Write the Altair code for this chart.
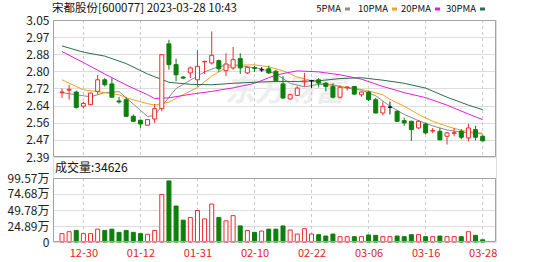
import altair as alt
import pandas as pd

title_text = "宋都股份[600077] 2023-03-28 10:43"
vol_title = "成交量:34626"
watermark_text = "东方财富"

opens = [2.700, 2.712, 2.703, 2.635, 2.642, 2.706, 2.762, 2.742, 2.660, 2.666,
         2.586, 2.567, 2.543, 2.573, 2.623, 2.935, 2.835, 2.775, 2.795, 2.762,
         2.848, 2.843, 2.854, 2.806, 2.819, 2.864, 2.795, 2.821, 2.810, 2.815,
         2.803, 2.742, 2.670, 2.687, 2.752, 2.758, 2.762, 2.746, 2.730, 2.678,
         2.724, 2.730, 2.690, 2.703, 2.666, 2.602, 2.630, 2.610, 2.565, 2.562,
         2.530, 2.549, 2.515, 2.514, 2.490, 2.504, 2.514, 2.482, 2.522, 2.490]
highs = [2.720, 2.738, 2.710, 2.656, 2.700, 2.786, 2.770, 2.770, 2.680, 2.680,
         2.595, 2.570, 2.572, 2.645, 2.886, 2.955, 2.864, 2.780, 2.826, 2.904,
         2.853, 2.995, 2.860, 2.890, 2.920, 2.890, 2.826, 2.830, 2.823, 2.830,
         2.810, 2.780, 2.695, 2.730, 2.795, 2.762, 2.770, 2.750, 2.745, 2.735,
         2.730, 2.732, 2.705, 2.710, 2.675, 2.657, 2.657, 2.615, 2.580, 2.565,
         2.567, 2.555, 2.530, 2.530, 2.510, 2.530, 2.525, 2.549, 2.540, 2.495]
lows = [2.675, 2.666, 2.623, 2.623, 2.640, 2.693, 2.730, 2.677, 2.647, 2.583,
        2.560, 2.530, 2.543, 2.554, 2.610, 2.810, 2.755, 2.765, 2.770, 2.730,
        2.790, 2.835, 2.800, 2.780, 2.810, 2.790, 2.790, 2.800, 2.800, 2.790,
        2.755, 2.672, 2.667, 2.685, 2.730, 2.722, 2.725, 2.706, 2.672, 2.672,
        2.710, 2.690, 2.680, 2.660, 2.600, 2.590, 2.595, 2.560, 2.540, 2.468,
        2.525, 2.500, 2.505, 2.470, 2.450, 2.490, 2.475, 2.465, 2.470, 2.465]
closes = [2.703, 2.716, 2.629, 2.648, 2.698, 2.762, 2.738, 2.678, 2.655, 2.586,
          2.562, 2.549, 2.570, 2.623, 2.883, 2.835, 2.786, 2.770, 2.819, 2.827,
          2.851, 2.880, 2.815, 2.838, 2.859, 2.819, 2.822, 2.817, 2.810, 2.795,
          2.758, 2.674, 2.690, 2.722, 2.756, 2.758, 2.746, 2.730, 2.678, 2.726,
          2.727, 2.693, 2.703, 2.666, 2.602, 2.634, 2.630, 2.562, 2.554, 2.522,
          2.562, 2.506, 2.518, 2.473, 2.506, 2.507, 2.485, 2.530, 2.485, 2.468]
volumes = [13, 16, 18, 13, 13, 20, 18, 20, 15, 18,
           15, 13, 12, 18, 74, 95, 56, 34, 38, 49,
           36, 59, 38, 33, 41, 25, 18, 15, 17, 20,
           20, 25, 18.7, 12.4, 20.7, 12.4, 11.4, 9.3, 12.4, 8.3,
           8.3, 8.3, 8.3, 10.9, 10.4, 8.3, 8.3, 9.3, 8.3, 11.4,
           11.4, 8.3, 8.3, 9.3, 8.3, 8.3, 8.3, 16, 10.4, 3.4626]

ma_names = ["5PMA", "10PMA", "20PMA", "30PMA"]
ma5_idx = [0, 2, 4, 6, 8, 10, 12, 13, 14, 16, 18, 20, 22, 24, 26, 28, 30, 32, 34, 36,
           38, 40, 42, 44, 46, 48, 50, 52, 54, 56, 58, 59]
ma5 = [2.700, 2.690, 2.680, 2.700, 2.705, 2.645, 2.585, 2.590, 2.635, 2.720,
       2.760, 2.800, 2.826, 2.835, 2.825, 2.815, 2.790, 2.745, 2.728, 2.740,
       2.738, 2.722, 2.712, 2.685, 2.635, 2.595, 2.565, 2.540, 2.520, 2.510,
       2.505, 2.500]
ma10_idx = [0, 2, 3, 6, 8, 9, 12, 13, 15, 17, 19, 21, 23, 25, 27, 29, 31, 33, 35, 37,
            39, 41, 43, 45, 46, 48, 50, 52, 54, 56, 58, 59]
ma10 = [2.762, 2.730, 2.714, 2.700, 2.690, 2.675, 2.647, 2.640, 2.655, 2.690,
        2.725, 2.780, 2.820, 2.833, 2.834, 2.825, 2.805, 2.775, 2.758, 2.740,
        2.730, 2.722, 2.708, 2.690, 2.668, 2.635, 2.595, 2.562, 2.538, 2.518,
        2.508, 2.505]
ma20_idx = [0, 3, 6, 9, 12, 13, 15, 18, 21, 24, 27, 30, 33, 36, 39, 42, 45, 48, 51, 54, 57, 59]
ma20 = [2.898, 2.845, 2.790, 2.737, 2.690, 2.672, 2.675, 2.692, 2.706, 2.723,
        2.745, 2.785, 2.805, 2.800, 2.786, 2.765, 2.730, 2.700, 2.676, 2.640,
        2.597, 2.570]
ma30_idx = [0, 3, 6, 9, 12, 15, 18, 21, 24, 27, 30, 33, 36, 39, 42, 45, 48, 51, 54, 57, 59]
ma30 = [2.925, 2.895, 2.876, 2.840, 2.790, 2.750, 2.740, 2.738, 2.745, 2.750,
        2.754, 2.754, 2.757, 2.768, 2.772, 2.760, 2.745, 2.722, 2.678, 2.640,
        2.618]

date_idx = [3, 11, 19, 27, 35, 43, 51, 59]
date_labels = ["12-30", "01-12", "01-31", "02-10", "02-22", "03-06", "03-16", "03-28"]
price_ticks = [2.39, 2.4725, 2.555, 2.6375, 2.72, 2.8025, 2.885, 2.9675, 3.05]
price_labels = ["2.39", "2.47", "2.56", "2.64", "2.72", "2.80", "2.88", "2.97", "3.05"]
vol_ticks = [0, 24.89, 49.78, 74.68, 99.57]
vol_labels = ["0", "24.89万", "49.78万", "74.68万", "99.57万"]

# ---------------- styling ----------------
FONT = "Noto Sans CJK SC"
RED = "#ec2a2a"
GREEN = "#0d7f0d"
FLAT = "#111111"
MA_COLORS = ["#8c8c8c", "#f2a21e", "#e01ee0", "#2b6e4c"]
W, H = 443, 222
PH, VT = 137, 158

n = len(opens)
dirs = ["up" if c > o else ("down" if c < o else "flat") for o, c in zip(opens, closes)]
vdirs = ["down" if d == "down" else "up" for d in dirs]
candles = pd.DataFrame({"idx": list(range(n)), "open": opens, "high": highs,
                        "low": lows, "close": closes, "dir": dirs,
                        "vol": volumes, "vdir": vdirs})

rows = []
for name, ids, vals in zip(ma_names, [ma5_idx, ma10_idx, ma20_idx, ma30_idx],
                           [ma5, ma10, ma20, ma30]):
    for i, v in zip(ids, vals):
        rows.append({"idx": i, "value": v, "series": name})
ma_df = pd.DataFrame(rows)


def js_list(items, quote):
    if quote:
        return "[" + ",".join("'%s'" % s for s in items) + "]"
    return "[" + ",".join(repr(v) for v in items) + "]"


xs = alt.Scale(domain=[-0.56, 60.17], nice=False, zero=False)
xaxis = alt.Axis(values=date_idx,
                 labelExpr="%s[indexof(%s, datum.value)]" % (js_list(date_labels, True), js_list(date_idx, False)),
                 title=None, grid=False, ticks=False, domain=False, labelColor="#e2231a",
                 labelFontSize=11, labelPadding=5, orient="bottom", labelFont=FONT)
X = alt.X("idx:Q", scale=xs, axis=xaxis)

P = alt.Scale(domain=[2.39, 3.05], range=[PH, 0], nice=False, zero=False)
V = alt.Scale(domain=[0, 99.57], range=[H, VT], nice=False, zero=True)
price_axis = alt.Axis(values=price_ticks,
                      labelExpr="%s[indexof(%s, datum.value)]" % (js_list(price_labels, True), js_list(price_ticks, False)),
                      title=None, grid=True, gridColor="#dddddd", ticks=False, domain=False,
                      labelPadding=4, orient="left", labelFontSize=12, labelColor="#222222", labelFont=FONT)
vol_axis = alt.Axis(values=vol_ticks,
                    labelExpr="%s[indexof(%s, datum.value)]" % (js_list(vol_labels, True), js_list(vol_ticks, False)),
                    title=None, grid=True, gridColor="#dddddd", ticks=False, domain=False,
                    labelPadding=4, orient="left", labelFontSize=12, labelColor="#222222", labelFont=FONT)

dir_dom = ["up", "down", "flat"]
stroke_scale = alt.Scale(domain=dir_dom, range=[RED, GREEN, FLAT])
fill_scale = alt.Scale(domain=dir_dom, range=["#ffffff", GREEN, FLAT])

wm = alt.Chart(pd.DataFrame({"t": [watermark_text]})).mark_text(
    fontSize=30, fontWeight="bold", fontStyle="italic", color="#ededed", font=FONT,
    align="center", baseline="middle").encode(x=alt.value(232), y=alt.value(72), text="t:N")

grid_df = pd.DataFrame({"idx": date_idx})
pgrid = alt.Chart(grid_df).mark_rule(color="#c8c8c8", strokeDash=[3, 3], strokeWidth=1).encode(
    x=X, y=alt.value(0), y2=alt.value(PH))
vgrid = alt.Chart(grid_df).mark_rule(color="#c8c8c8", strokeDash=[3, 3], strokeWidth=1).encode(
    x=X, y=alt.value(VT), y2=alt.value(H))

ma_chart = alt.Chart(ma_df).mark_line(strokeWidth=1).encode(
    x=X, y=alt.Y("value:Q", scale=P, axis=price_axis),
    color=alt.Color("series:N", scale=alt.Scale(domain=ma_names, range=MA_COLORS), legend=None))

wicks = alt.Chart(candles).mark_rule(strokeWidth=1).encode(
    x=X, y=alt.Y("low:Q", scale=P, axis=None), y2="high:Q",
    stroke=alt.Stroke("dir:N", scale=stroke_scale, legend=None))

bodies = alt.Chart(candles).mark_bar(width=4, strokeWidth=1).encode(
    x=X, y=alt.Y("open:Q", scale=P, axis=None), y2="close:Q",
    fill=alt.Fill("dir:N", scale=fill_scale, legend=None),
    stroke=alt.Stroke("dir:N", scale=stroke_scale, legend=None))

vbars = alt.Chart(candles).mark_bar(width=4, strokeWidth=1).encode(
    x=X, y=alt.Y("vol:Q", scale=V, axis=vol_axis),
    fill=alt.Fill("vdir:N", scale=fill_scale, legend=None),
    stroke=alt.Stroke("vdir:N", scale=stroke_scale, legend=None))

frame_df = pd.DataFrame({"k": [0]})
pframe = alt.Chart(frame_df).mark_rect(fillOpacity=0, stroke="#a3a3a3", strokeWidth=1).encode(
    x=alt.value(0.5), x2=alt.value(W - 0.5), y=alt.value(0.5), y2=alt.value(PH - 0.5))
vframe = alt.Chart(frame_df).mark_rect(fillOpacity=0, stroke="#a3a3a3", strokeWidth=1).encode(
    x=alt.value(0.5), x2=alt.value(W - 0.5), y=alt.value(VT + 0.5), y2=alt.value(H - 0.5))

title_mark = alt.Chart(pd.DataFrame({"t": [title_text]})).mark_text(
    align="left", baseline="middle", fontSize=11.5, font=FONT, color="#111111").encode(
    x=alt.value(-1), y=alt.value(-11), text="t:N")
vol_mark = alt.Chart(pd.DataFrame({"t": [vol_title]})).mark_text(
    align="left", baseline="middle", fontSize=12, font=FONT, color="#111111").encode(
    x=alt.value(2), y=alt.value(VT - 10), text="t:N")

legend_layers = []
sym_x = [292, 339, 382, 427]
for name, col, sx in zip(ma_names, MA_COLORS, sym_x):
    d = pd.DataFrame({"t": [name]})
    legend_layers.append(alt.Chart(d).mark_text(
        align="right", baseline="middle", fontSize=9.5, font=FONT, color="#111111").encode(
        x=alt.value(sx - 4), y=alt.value(-11), text="t:N"))
    legend_layers.append(alt.Chart(d).mark_rule(strokeWidth=3, color=col).encode(
        x=alt.value(sx), x2=alt.value(sx + 5), y=alt.value(-11)))

chart = alt.layer(wm, pgrid, vgrid, ma_chart, wicks, bodies, vbars, pframe, vframe,
                  title_mark, vol_mark, *legend_layers).resolve_scale(
    y="independent").properties(
    width=W, height=H,
    autosize=alt.AutoSizeParams(type="none"),
    padding={"left": 53, "top": 20, "right": 53, "bottom": 20},
).configure_view(strokeOpacity=0).configure(background="white")

chart.save("out.html", embed_options={"renderer": "svg", "actions": False})
